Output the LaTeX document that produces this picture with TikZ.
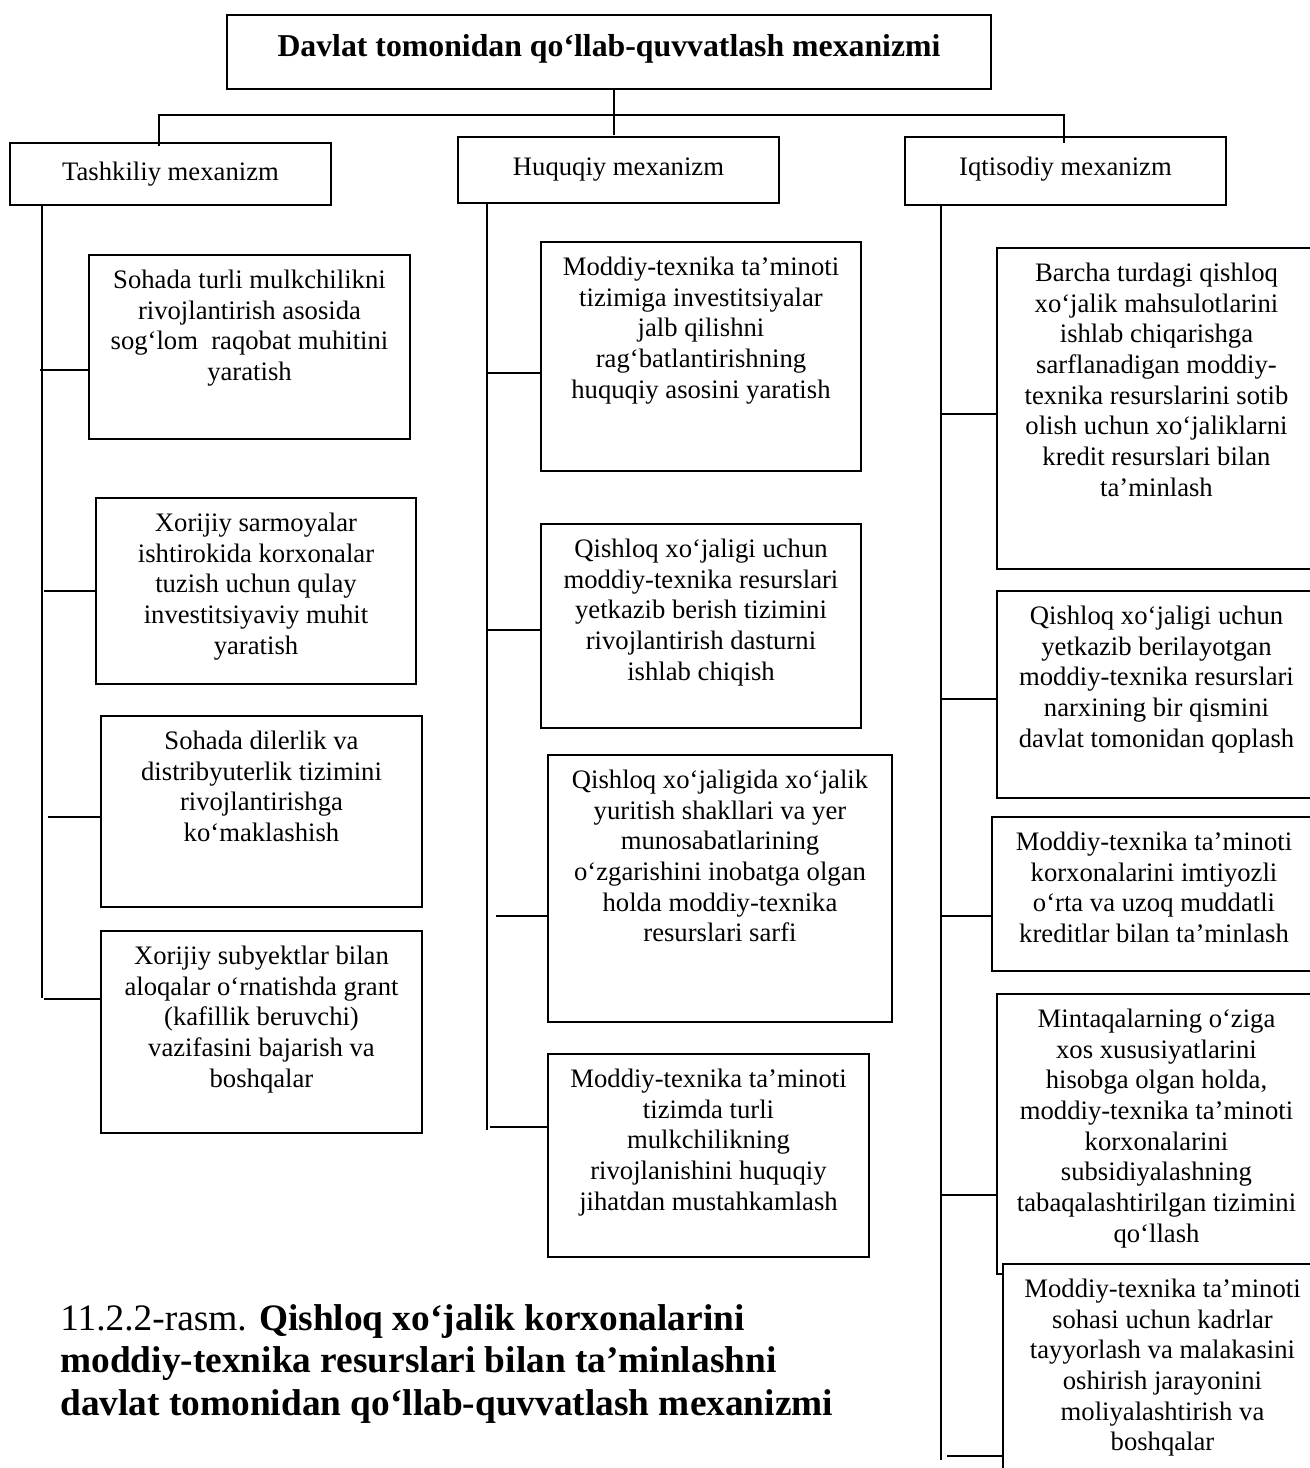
\documentclass[tikz,border=0pt]{standalone}
\usepackage{fontspec}
\setmainfont{Liberation Serif}
\begin{document}
\begin{tikzpicture}[x=0.45pt,y=-0.45pt,
  box/.style={draw, line width=0.7pt, inner sep=0pt, fill=white},
  txt/.style={align=center, inner sep=0pt, font=\fontsize{12}{13.8}\selectfont},
  head/.style={inner sep=0pt, font=\fontsize{12}{13.8}\selectfont},
  conn/.style={line width=0.6pt},
]
\newcommand\bx[6]{%
  \node[box, minimum width={(#4-#2)*0.45pt}, minimum height={(#5-#3)*0.45pt}] (#1) at ({(#2+#4)/2},{(#3+#5)/2}) {};
  \node[txt, anchor=north] (#1t) at ({(#2+#4)/2},{#3+13}) {\rule{0pt}{9pt}#6};
}
\useasboundingbox (0,0) rectangle (1310,1468);

% title and mechanisms
\node[box, minimum width={764*0.45pt}, minimum height={74*0.45pt}] (title) at (609,52) {};
\node[inner sep=0pt, anchor=base, font=\bfseries\fontsize{14.3}{16}\selectfont] (titlet) at (609,56) {Davlat tomonidan qo‘llab-quvvatlash mexanizmi};

\node[box, minimum width={321*0.45pt}, minimum height={62*0.45pt}] (tash) at (170.5,174) {};
\node[head, anchor=base] (tasht) at (170.5,180) {Tashkiliy mexanizm};
\node[box, minimum width={321*0.45pt}, minimum height={66*0.45pt}] (huq) at (618.5,170) {};
\node[head, anchor=base] (huqt) at (618.5,175) {Huquqiy mexanizm};
\node[box, minimum width={321*0.45pt}, minimum height={68*0.45pt}] (iqt) at (1065.5,171) {};
\node[head, anchor=base] (iqtt) at (1065.5,175) {Iqtisodiy mexanizm};

% tree connectors
\coordinate (jm) at (614,135);
\coordinate (jl) at (159,115);
\coordinate (jr) at (1064,115);
\coordinate (jle) at (159,146);
\coordinate (jre) at (1064,143);
\draw[conn] (title.south -| jm) -- (jm);
\draw[conn] (jle) -- (jl) -- (jr) -- (jre);

% left column
\bx{b11}{89}{255}{410}{439}{Sohada turli mulkchilikni\\rivojlantirish asosida\\sog‘lom\ \ raqobat muhitini\\yaratish}
\bx{b12}{96}{498}{416}{684}{Xorijiy sarmoyalar\\ishtirokida korxonalar\\tuzish uchun qulay\\investitsiyaviy muhit\\yaratish}
\bx{b13}{101}{716}{422}{907}{Sohada dilerlik va\\distribyuterlik tizimini\\rivojlantirishga\\ko‘maklashish}
\bx{b14}{101}{931}{422}{1133}{Xorijiy subyektlar bilan\\aloqalar o‘rnatishda grant\\(kafillik beruvchi)\\vazifasini bajarish va\\boshqalar}

% middle column
\bx{b21}{541}{242}{861}{471}{Moddiy-texnika ta’minoti\\tizimiga investitsiyalar\\jalb qilishni\\rag‘batlantirishning\\huquqiy asosini yaratish}
\bx{b22}{541}{524}{861}{728}{Qishloq xo‘jaligi uchun\\moddiy-texnika resurslari\\yetkazib berish tizimini\\rivojlantirish dasturni\\ishlab chiqish}
\bx{b23}{548}{755}{892}{1022}{Qishloq xo‘jaligida xo‘jalik\\yuritish shakllari va yer\\munosabatlarining\\o‘zgarishini inobatga olgan\\holda moddiy-texnika\\resurslari sarfi}
\bx{b24}{548}{1054}{869}{1257}{Moddiy-texnika ta’minoti\\tizimda turli\\mulkchilikning\\rivojlanishini huquqiy\\jihatdan mustahkamlash}

% right column
\bx{b31}{997}{248}{1316}{569}{Barcha turdagi qishloq\\xo‘jalik mahsulotlarini\\ishlab chiqarishga\\sarflanadigan moddiy-\\texnika resurslarini sotib\\olish uchun xo‘jaliklarni\\kredit resurslari bilan\\ta’minlash}
\bx{b32}{997}{591}{1316}{798}{Qishloq xo‘jaligi uchun\\yetkazib berilayotgan\\moddiy-texnika resurslari\\narxining bir qismini\\davlat tomonidan qoplash}
\bx{b33}{992}{817}{1316}{971}{Moddiy-texnika ta’minoti\\korxonalarini imtiyozli\\o‘rta va uzoq muddatli\\kreditlar bilan ta’minlash}
\bx{b34}{997}{994}{1316}{1274}{Mintaqalarning o‘ziga\\xos xususiyatlarini\\hisobga olgan holda,\\moddiy-texnika ta’minoti\\korxonalarini\\subsidiyalashning\\tabaqalashtirilgan tizimini\\qo‘llash}
\bx{b35}{1003}{1264}{1322}{1480}{Moddiy-texnika ta’minoti\\sohasi uchun kadrlar\\tayyorlash va malakasini\\oshirish jarayonini\\moliyalashtirish va\\boshqalar}

% spines
\coordinate (sp1) at (42,998);
\coordinate (sp2) at (487,1130);
\coordinate (sp3) at (941,1460);
\draw[conn] (tash.south -| sp1) -- (sp1);
\draw[conn] (huq.south -| sp2) -- (sp2);
\draw[conn] (iqt.south -| sp3) -- (sp3);

% ticks
\coordinate (k11) at (40,370);
\coordinate (k12) at (44,591);
\coordinate (k13) at (48,817);
\coordinate (k14) at (44,999);
\coordinate (k21) at (488,373);
\coordinate (k22) at (488,630);
\coordinate (k23) at (496,916);
\coordinate (k24) at (490,1127);
\coordinate (k31) at (942,414);
\coordinate (k32) at (942,699);
\coordinate (k33) at (942,916);
\coordinate (k34) at (942,1195);
\coordinate (k35) at (947,1456);
\foreach \k/\b in {k11/b11,k12/b12,k13/b13,k14/b14,k21/b21,k22/b22,k23/b23,k24/b24,k31/b31,k32/b32,k33/b33,k34/b34,k35/b35}{
  \draw[conn] (\k) -- (\b.west |- \k);
}

% caption
\node[inner sep=0pt, anchor=north west, align=left, font=\fontsize{16.8}{19.1}\selectfont] (cap) at (60,1301)
 {\rule{0pt}{13pt}11.2.2-rasm. \textbf{Qishloq xo‘jalik korxonalarini}\\\textbf{moddiy-texnika resurslari bilan ta’minlashni}\\\textbf{davlat tomonidan qo‘llab-quvvatlash mexanizmi}};
\end{tikzpicture}
\end{document}
